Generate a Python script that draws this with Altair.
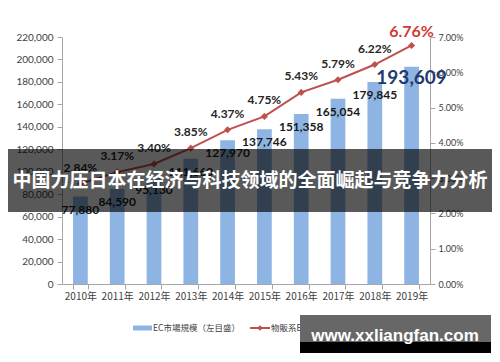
import altair as alt
import pandas as pd

# ---- data ----
years = ["2010年", "2011年", "2012年", "2013年", "2014年",
         "2015年", "2016年", "2017年", "2018年", "2019年"]
ec_market = [77880, 84590, 95130, 111660, 127970,
             137746, 151358, 165054, 179845, 193609]
ec_rate_pct = [2.84, 3.17, 3.40, 3.85, 4.37, 4.75, 5.43, 5.79, 6.22, 6.76]
left_ticks = [0, 20000, 40000, 60000, 80000, 100000, 120000,
              140000, 160000, 180000, 200000, 220000]
right_ticks = [0.00, 0.01, 0.02, 0.03, 0.04, 0.05, 0.06, 0.07]
bar_series_name = "EC市場規模（左目盛）"
line_series_name = "物販系EC化率（右目盛）"
banner_text = "中国力压日本在经济与科技领域的全面崛起与竞争力分析"
watermark_text = "www.xxliangfan.com"

df = pd.DataFrame({
    "year": years,
    "market": ec_market,
    "rate": [v / 100 for v in ec_rate_pct],
})

BAR = "#8DB4E2"
RED = "#C0504D"
AXIS_GRAY = "#A6A6A6"
LABEL = "#404040"
NUMFONT = "Lato"
JPFONT = "Noto Sans CJK JP"
last_year = years[-1]

x_enc = alt.X(
    "year:N", sort=years,
    scale=alt.Scale(paddingInner=0.6, paddingOuter=0.3),
    axis=alt.Axis(title=None, labelAngle=0, tickBand="extent",
                  labelFont=JPFONT, labelFontSize=10, labelColor=LABEL,
                  domainColor=AXIS_GRAY, tickColor=AXIS_GRAY, tickSize=5,
                  labelPadding=2),
)
y_mk_scale = alt.Scale(domain=[0, 220000])
y_rt_scale = alt.Scale(domain=[0, 0.07])

base = alt.Chart(df)

bars = base.mark_bar(color=BAR).encode(
    x=x_enc,
    y=alt.Y("market:Q", scale=y_mk_scale,
            axis=alt.Axis(title=None, orient="left", values=left_ticks,
                          format=",.0f", grid=False, labelFont=NUMFONT,
                          labelFontSize=10, labelColor=LABEL,
                          domainColor=AXIS_GRAY, tickColor=AXIS_GRAY,
                          tickSize=5, labelPadding=4)),
)

bar_labels = base.transform_filter(alt.datum.year != last_year).mark_text(
    font=NUMFONT, fontSize=12, fontWeight="bold", color="#1a1a1a",
    baseline="middle", dy=13,
).encode(
    x=x_enc,
    y=alt.Y("market:Q", scale=y_mk_scale, axis=None),
    text=alt.Text("market:Q", format=",.0f"),
)

bar_label_big = base.transform_filter(alt.datum.year == last_year).mark_text(
    font=NUMFONT, fontSize=19, fontWeight="bold", color="#1F3A6E",
    baseline="middle", dy=11,
).encode(
    x=x_enc,
    y=alt.Y("market:Q", scale=y_mk_scale, axis=None),
    text=alt.Text("market:Q", format=",.0f"),
)

line = base.mark_line(color=RED, strokeWidth=2).encode(
    x=x_enc,
    y=alt.Y("rate:Q", scale=y_rt_scale,
            axis=alt.Axis(title=None, orient="right", values=right_ticks,
                          format=".2%", grid=False, labelFont=NUMFONT,
                          labelFontSize=9, labelColor=LABEL,
                          domainColor=AXIS_GRAY, tickColor=AXIS_GRAY,
                          tickSize=5, labelPadding=3)),
)

points = base.mark_point(shape="diamond", filled=True, color=RED,
                         size=50, opacity=1).encode(
    x=x_enc,
    y=alt.Y("rate:Q", scale=y_rt_scale, axis=None),
)

pct_labels = base.transform_filter(alt.datum.year != last_year).mark_text(
    font=NUMFONT, fontSize=12, fontWeight="bold", color="#262626",
    baseline="middle", dy=-16,
).encode(
    x=x_enc,
    y=alt.Y("rate:Q", scale=y_rt_scale, axis=None),
    text=alt.Text("rate:Q", format=".2%"),
)

pct_big = base.transform_filter(alt.datum.year == last_year).mark_text(
    font=NUMFONT, fontSize=16, fontWeight="bold", color="#CF3A3A",
    baseline="middle", dy=-13,
).encode(
    x=x_enc,
    y=alt.Y("rate:Q", scale=y_rt_scale, axis=None),
    text=alt.Text("rate:Q", format=".2%"),
)

one = alt.Chart(alt.Data(values=[{}]))

# manual legend
leg_rect = one.mark_rect(color=BAR).encode(
    x=alt.value(71), x2=alt.value(90), y=alt.value(288.5), y2=alt.value(293.5))
leg_txt1 = one.mark_text(align="left", baseline="middle", font=JPFONT,
                         fontSize=8.5, color=LABEL, text=bar_series_name).encode(
    x=alt.value(91), y=alt.value(291))
leg_rule = one.mark_rule(color=RED, strokeWidth=2).encode(
    x=alt.value(188), x2=alt.value(208), y=alt.value(291))
leg_pt = one.mark_point(shape="diamond", filled=True, color=RED, size=30,
                        opacity=1).encode(x=alt.value(198), y=alt.value(291))
leg_txt2 = one.mark_text(align="left", baseline="middle", font=JPFONT,
                         fontSize=8.5, color=LABEL, text=line_series_name).encode(
    x=alt.value(209), y=alt.value(291))

# overlay banner
banner = one.mark_rect(color="black", opacity=0.65).encode(
    x=alt.value(-62), x2=alt.value(438), y=alt.value(112), y2=alt.value(175))
banner_txt = one.mark_text(font="Noto Sans CJK SC", fontSize=19,
                           fontWeight="bold", color="white", align="center",
                           baseline="middle", text=banner_text).encode(
    x=alt.value(188), y=alt.value(144))

# watermark
wm_gray = one.mark_rect(color="#676767").encode(
    x=alt.value(238), x2=alt.value(429), y=alt.value(278), y2=alt.value(305))
wm_black = one.mark_rect(color="black").encode(
    x=alt.value(238), x2=alt.value(429), y=alt.value(305), y2=alt.value(316))
wm_txt = one.mark_text(font="Liberation Sans", fontSize=17, fontWeight="bold",
                       color="white", align="center", baseline="middle",
                       text=watermark_text).encode(
    x=alt.value(333), y=alt.value(299))

chart = alt.layer(
    bars, bar_labels, bar_label_big, line, points, pct_labels, pct_big,
    leg_rect, leg_txt1, leg_rule, leg_pt, leg_txt2,
    banner, banner_txt, wm_gray, wm_black, wm_txt,
).resolve_scale(y="independent").properties(
    width=368, height=247,
    padding={"left": 54, "top": 29, "right": 62, "bottom": 70},
    autosize=alt.AutoSizeParams(type="none"),
).configure_view(stroke=None)

chart.save("out.html", embed_options={"renderer": "svg", "actions": False})
